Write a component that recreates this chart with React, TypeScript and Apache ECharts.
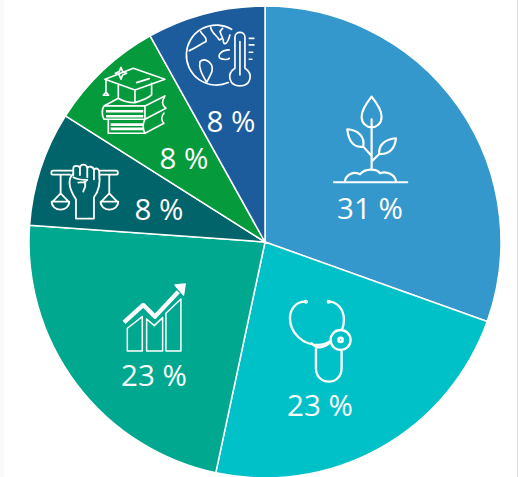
import React, { useEffect, useRef } from "react";
import * as echarts from "echarts";

const categories = ["Plant", "Health", "Growth", "Justice", "Education", "Climate"];
const shares = [30.5, 22.9, 22.8, 7.85, 7.95, 8.1];
const colors = ["#3598CC", "#00C1C8", "#00A88F", "#00646A", "#059A3C", "#1C5B9C"];
const labelCentres = [[370, 207], [320, 404], [154, 374], [159, 208], [184, 157], [231, 120]];

const icons: { name: string; x: number; y: number; d: string; lw: number }[] = [
  {
    name: "plant", x: 320, y: 80, lw: 6.5,
    d: "M155 50C135 75 125 95 125 110C125 130 140 142 155 142C170 142 185 130 185 110C185 95 175 75 155 50Z M155 118L155 265 M82 148C115 150 135 170 130 200C100 205 85 180 82 148Z M130 200L155 228 M228 175C195 178 175 195 178 222C208 225 225 205 228 175Z M178 222L155 245 M75 303C78 285 100 272 120 283C135 265 170 265 180 280C200 272 225 285 228 303 M42 307L262 307",
  },
  {
    name: "stethoscope", x: 270, y: 290, lw: 7,
    d: "M105 35C80 35 60 55 60 85C60 130 100 165 145 165C160 165 172 160 183 152 M175 35C200 35 222 55 222 90C222 100 220 110 216 120 M242 150A30 30 0 1 1 182 150A30 30 0 1 1 242 150Z M138 175L138 235C138 260 155 275 177 275C198 275 215 260 215 235L215 180 M125 160C140 178 160 175 180 158",
  },
  {
    name: "stethoscopeDots", x: 270, y: 290, lw: 8,
    d: "M218 150A6 6 0 1 1 206 150A6 6 0 1 1 218 150Z M110 35A2 2 0 1 1 106 35A2 2 0 1 1 110 35Z M178 35A2 2 0 1 1 174 35A2 2 0 1 1 178 35Z",
  },
  {
    name: "growthBars", x: 110, y: 275, lw: 4.5,
    d: "M52 228L52 160L97 125L97 228Z M110 228L110 132L133 152L158 128L158 228Z M168 228L168 115L213 72L213 228Z",
  },
  {
    name: "growthArrow", x: 110, y: 275, lw: 13,
    d: "M42 142L100 90L135 125L205 50",
  },
  {
    name: "growthHead", x: 110, y: 275, lw: 4,
    d: "M195 30L226 27L221 60Z",
  },
  {
    name: "justice", x: 30, y: 140, lw: 5.5,
    d: "M130 92L70 92A6 6 0 0 0 70 104L120 104 M212 92L258 92A6 6 0 0 1 258 104L212 104 M92 104L92 160 M238 104L238 160 M92 160L68 185L116 185Z M65 185C65 217 118 217 118 185Z M238 160L214 185L262 185Z M212 185C212 217 265 217 265 185Z M138 178L138 236L192 236L192 172C205 155 212 130 208 100 M130 100C115 115 113 140 138 178 M130 105L130 85C130 75 148 75 150 85L150 105 M150 85C150 70 170 70 172 85L172 112 M172 85C175 78 190 78 192 90L192 118 M192 90C196 82 208 85 208 98L208 118 M130 112C140 118 165 120 172 120 M168 125C160 130 150 125 145 128 M165 130C170 140 160 150 160 155",
  },
  {
    name: "education", x: 90, y: 30, lw: 5,
    d: "M45 148L130 115L225 148L135 180Z M85 165L85 205C100 215 120 218 135 218C155 212 175 205 185 195L185 160 M135 180L135 215 M48 148L48 190 M140 158L178 146 M93 112L98 125L110 130L98 135L93 148L88 135L76 130L88 125Z M42 228L165 228L165 268L42 268C35 258 35 238 42 228Z M42 228L85 205 M165 228L225 198C215 215 215 225 228 235L165 268 M55 268L55 310L165 310L222 280C212 270 215 258 222 250 M165 268C158 280 158 298 165 310 M40 196L56 196L48 186Z",
  },
  {
    name: "educationBars", x: 90, y: 30, lw: 8,
    d: "M48 244L160 244 M48 259L160 259 M62 284L162 284 M62 297L162 297",
  },
  {
    name: "climate", x: 180, y: 0, lw: 5,
    d: "M155 88A90 90 0 1 0 145 248 M165 205L165 112C165 92 195 92 195 112L195 205C222 222 212 258 180 258C148 258 138 222 165 205Z M180 125L180 225 M208 115L222 115 M208 135L222 135 M208 157L218 157 M208 178L216 178 M62 95C70 110 82 110 78 125C65 130 55 140 28 152 M92 82C95 100 110 105 118 120L128 115L120 95L128 85 M130 118C128 135 140 140 150 105 M148 150C125 150 112 165 120 175C130 180 145 180 148 175 M60 185C55 205 68 225 80 248C90 225 102 215 95 195C85 180 70 175 60 185Z",
  },
];

icons.forEach((icon) => {
  echarts.graphic.registerShape(icon.name, echarts.graphic.extendPath(icon.d, {}));
});

export default function App() {
  const ref = useRef<HTMLDivElement>(null);
  useEffect(() => {
    document.body.style.margin = "0";
    const chart = echarts.init(ref.current!, null, { renderer: "svg" });
    chart.setOption({
      animation: false,
      backgroundColor: "#ffffff",
      series: [
        {
          type: "pie",
          center: [265, 242],
          radius: [0, 236],
          startAngle: 90,
          clockwise: true,
          minAngle: 0,
          data: categories.map((name, i) => ({
            name,
            value: shares[i],
            itemStyle: { color: colors[i] },
          })),
          itemStyle: { borderColor: "#ffffff", borderWidth: 1.5 },
          label: {
            show: true,
            position: "inside",
            formatter: (p: any) => `${Math.round(p.value)} %`,
            color: "#ffffff",
            fontFamily: "Open Sans",
            fontSize: 29.5,
          },
          labelLine: { show: false },
          labelLayout: (p: any) => ({
            x: labelCentres[p.dataIndex][0],
            y: labelCentres[p.dataIndex][1],
            align: "center",
            verticalAlign: "middle",
          }),
          emphasis: { disabled: true },
        },
      ],
      graphic: {
        elements: [
          { type: "rect", z: 0, silent: true, shape: { x: 0, y: 0, width: 4, height: 477 }, style: { fill: "#f9f9f9" } },
          { type: "rect", z: 0, silent: true, shape: { x: 517, y: 0, width: 1, height: 477 }, style: { fill: "#dddddd" } },
          ...icons.map((icon) => ({
            type: icon.name,
            x: icon.x,
            y: icon.y,
            scaleX: 1 / 3,
            scaleY: 1 / 3,
            z: 10,
            silent: true,
            style: {
              fill: icon.name === "growthHead" ? "#ffffff" : "none",
              stroke: "#ffffff",
              lineWidth: icon.lw,
              lineJoin: "round",
              lineCap: icon.name === "growthArrow" || icon.name === "educationBars" ? "butt" : "round",
            },
          })),
        ],
      },
    });
    return () => chart.dispose();
  }, []);
  return <div ref={ref} style={{ width: 518, height: 477 }} />;
}
